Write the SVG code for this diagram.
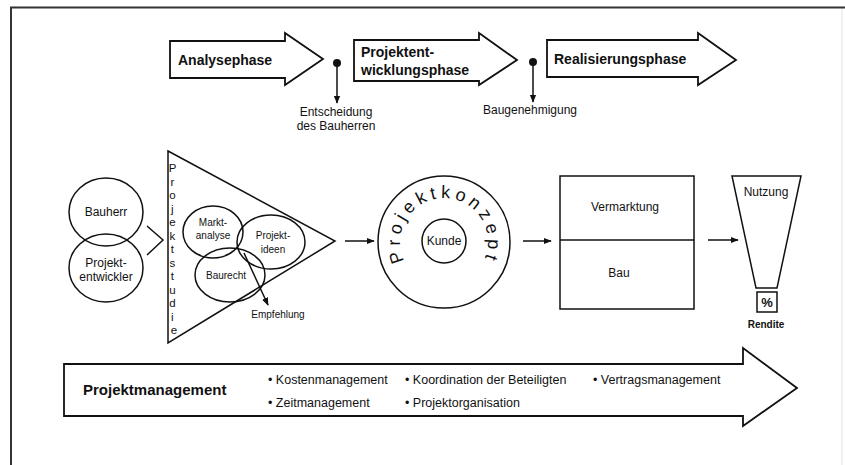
<svg xmlns="http://www.w3.org/2000/svg" width="845" height="465" viewBox="0 0 845 465">
<style>
  text { font-family: "Liberation Sans", Arial, sans-serif; fill: #111; }
  .shape { fill: none; stroke: #111; stroke-width: 1.5; }
  .phase { fill: #fff; stroke: #111; stroke-width: 1.8; stroke-linejoin: miter; }
  .ph { font-size: 14px; font-weight: bold; }
  .lbl { font-size: 12px; text-anchor: middle; }
  .sm { font-size: 10px; text-anchor: middle; }
  .pm { font-size: 12.5px; }
  .pk { font-size: 18px; text-anchor: middle; }
  .conn { fill: none; stroke: #111; stroke-width: 1.5; }
</style>
<defs>
  <marker id="ah" viewBox="0 0 10 10" refX="9" refY="5" markerWidth="8" markerHeight="8" markerUnits="userSpaceOnUse" orient="auto">
    <path d="M0,1 L10,5 L0,9 Z" fill="#111"/>
  </marker>
</defs>
<rect width="845" height="465" fill="#fff"/>
<g id="frame">
  <path d="M11,465 V7.5 H845" fill="none" stroke="#333" stroke-width="2"/>
  <line x1="842" y1="9" x2="842" y2="465" stroke="#e2e2e2" stroke-width="1"/>
</g>

<g id="analysephase">
  <path class="phase" d="M170,41 H285 V33 L323,59 L285,85 V78 H170 Z"/>
  <text class="ph" x="178" y="65">Analysephase</text>
</g>
<g id="projektentwicklungsphase">
  <path class="phase" d="M354,40 H479 V33 L517,60 L479,85 V81 H354 Z"/>
  <text class="ph" x="361" y="57">Projektent-</text>
  <text class="ph" x="361" y="75">wicklungsphase</text>
</g>
<g id="realisierungsphase">
  <path class="phase" d="M547,40 H698 V33 L736,60 L698,85 V77 H547 Z"/>
  <text class="ph" x="554" y="64">Realisierungsphase</text>
</g>
<g id="entscheidung">
  <circle cx="337" cy="63" r="4" fill="#111"/>
  <text class="lbl" x="336" y="116">Entscheidung</text>
  <text class="lbl" x="336" y="130">des Bauherren</text>
</g>
<g id="baugenehmigung">
  <circle cx="533" cy="62" r="4" fill="#111"/>
  <text class="lbl" x="530" y="114">Baugenehmigung</text>
</g>

<g id="bauherr">
  <ellipse class="shape" cx="106" cy="212" rx="37" ry="34"/>
  <text class="lbl" x="106" y="216">Bauherr</text>
</g>
<g id="projektentwickler">
  <ellipse class="shape" cx="106" cy="268" rx="37" ry="34"/>
  <text class="lbl" x="106" y="267">Projekt-</text>
  <text class="lbl" x="106" y="281">entwickler</text>
</g>

<g id="projektstudie">
  <path class="shape" d="M168,151 L335,241 L168,343 Z"/>
  <text font-size="11.5" text-anchor="middle">
    <tspan x="174" y="172">P</tspan>
    <tspan x="174" y="185.5">r</tspan>
    <tspan x="174" y="199">o</tspan>
    <tspan x="174" y="212.5">j</tspan>
    <tspan x="174" y="226">e</tspan>
    <tspan x="174" y="239.5">k</tspan>
    <tspan x="174" y="253">t</tspan>
    <tspan x="174" y="266.5">s</tspan>
    <tspan x="174" y="280">t</tspan>
    <tspan x="174" y="293.5">u</tspan>
    <tspan x="174" y="307">d</tspan>
    <tspan x="174" y="320.5">i</tspan>
    <tspan x="174" y="334">e</tspan>
  </text>
</g>
<g id="marktanalyse">
  <ellipse class="shape" cx="213" cy="232" rx="30" ry="26"/>
  <text class="sm" x="213" y="226">Markt-</text>
  <text class="sm" x="213" y="239">analyse</text>
</g>
<g id="projektideen">
  <ellipse class="shape" cx="271" cy="242" rx="34" ry="27"/>
  <text class="sm" x="273" y="239">Projekt-</text>
  <text class="sm" x="273" y="253">ideen</text>
</g>
<g id="baurecht">
  <ellipse class="shape" cx="230" cy="275" rx="35" ry="27"/>
  <text class="sm" x="226" y="279" font-size="10.5">Baurecht</text>
</g>
<g id="empfehlung">
  <text class="sm" x="278" y="318">Empfehlung</text>
</g>

<g id="projektkonzept">
  <circle class="shape" cx="444" cy="242" r="66"/>
  <text class="pk" transform="translate(402.15,255.6) rotate(-108)">P</text>
  <text class="pk" transform="translate(400,242.56) rotate(-90.73)">r</text>
  <text class="pk" transform="translate(401.54,230.44) rotate(-74.77)">o</text>
  <text class="pk" transform="translate(405.85,220.07) rotate(-60.11)">j</text>
  <text class="pk" transform="translate(412.66,211.12) rotate(-45.44)">e</text>
  <text class="pk" transform="translate(423.67,202.98) rotate(-27.52)">k</text>
  <text class="pk" transform="translate(434.21,199.1) rotate(-12.86)">t</text>
  <text class="pk" transform="translate(445.38,198.02) rotate(1.8)">k</text>
  <text class="pk" transform="translate(458.85,200.58) rotate(19.72)">o</text>
  <text class="pk" transform="translate(471.26,207.46) rotate(38.29)">n</text>
  <text class="pk" transform="translate(480.57,217.53) rotate(56.21)">z</text>
  <text class="pk" transform="translate(486.32,229.97) rotate(74.13)">e</text>
  <text class="pk" transform="translate(487.95,244.07) rotate(92.7)">p</text>
  <text class="pk" transform="translate(485.84,255.6) rotate(108.01)">t</text>
</g>
<g id="kunde">
  <circle class="shape" cx="444" cy="241" r="22"/>
  <text class="lbl" x="444" y="245">Kunde</text>
</g>

<g id="vermarktung-bau">
  <rect class="shape" x="560" y="176" width="134" height="133"/>
  <line class="shape" x1="560" y1="240" x2="694" y2="240"/>
  <text class="lbl" x="625" y="211">Vermarktung</text>
  <text class="lbl" x="619" y="277">Bau</text>
</g>

<g id="nutzung">
  <path class="shape" d="M732,176 H801 L777,288 H756 Z"/>
  <text class="lbl" x="766" y="196">Nutzung</text>
</g>
<g id="rendite">
  <rect class="shape" x="757" y="292" width="20" height="20"/>
  <text x="767" y="307" font-size="13" font-weight="bold" text-anchor="middle">%</text>
  <text x="766" y="328" font-size="10" font-weight="bold" text-anchor="middle">Rendite</text>
</g>

<g id="projektmanagement">
  <path class="phase" d="M64,364 H743 V348 L797,388 L743,426 V416 H64 Z"/>
  <text x="83" y="395" font-size="15" font-weight="bold">Projektmanagement</text>
  <text class="pm" x="268" y="384">• Kostenmanagement</text>
  <text class="pm" x="268" y="407">• Zeitmanagement</text>
  <text class="pm" x="405" y="384">• Koordination der Beteiligten</text>
  <text class="pm" x="405" y="407">• Projektorganisation</text>
  <text class="pm" x="593" y="384">• Vertragsmanagement</text>
</g>

<g id="connectors">
  <line class="conn" x1="337" y1="63" x2="337" y2="103" marker-end="url(#ah)"/>
  <line class="conn" x1="533" y1="62" x2="533" y2="102" marker-end="url(#ah)"/>
  <polyline class="conn" points="147,226 163,240 147,255"/>
  <line class="conn" x1="244" y1="253" x2="268" y2="305" marker-end="url(#ah)"/>
  <line class="conn" x1="345" y1="241" x2="374" y2="241" marker-end="url(#ah)"/>
  <line class="conn" x1="523" y1="241" x2="551" y2="241" marker-end="url(#ah)"/>
  <line class="conn" x1="708" y1="240" x2="738" y2="240" marker-end="url(#ah)"/>
</g>
</svg>
